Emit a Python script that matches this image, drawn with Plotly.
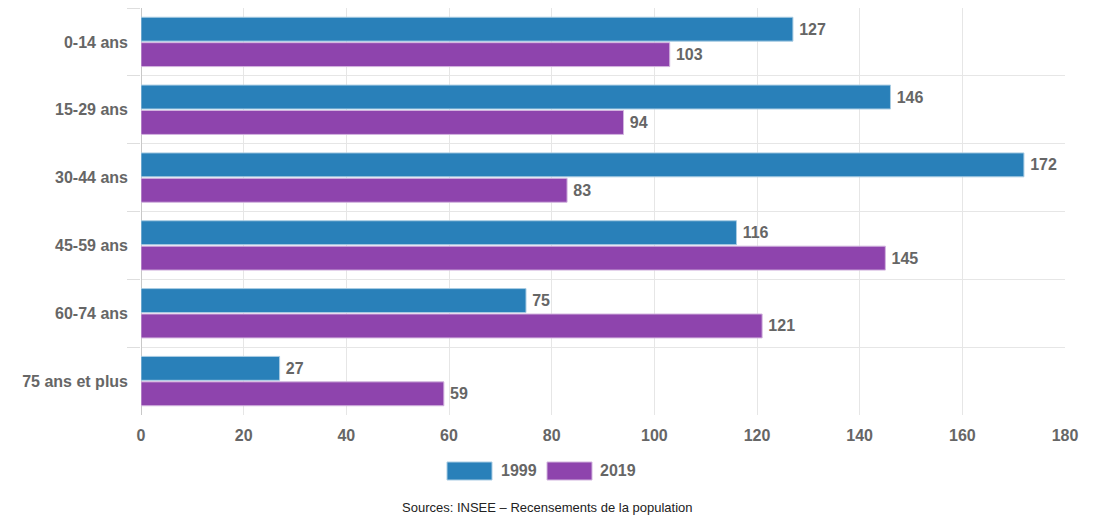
import plotly.graph_objects as go

categories = ["0-14 ans", "15-29 ans", "30-44 ans", "45-59 ans", "60-74 ans", "75 ans et plus"]
values_1999 = [127, 146, 172, 116, 75, 27]
values_2019 = [103, 94, 83, 145, 121, 59]
series_names = ["1999", "2019"]
colors = ["#2980b9", "#8e44ad"]
border_colors = ["#a9cce3", "#d2b4de"]
x_ticks = [0, 20, 40, 60, 80, 100, 120, 140, 160, 180]

W, H = 1094, 517
L, R, T, B = 141, 29, 8, 102

font_main = "Liberation Sans, Arial, sans-serif"
gray = "#666666"

fig = go.Figure()
for name, vals, col, bcol in zip(series_names, [values_1999, values_2019], colors, border_colors):
    fig.add_trace(go.Bar(
        y=categories, x=vals, orientation="h", name=name,
        marker=dict(color=col, line=dict(color=bcol, width=1)),
        text=["\u2009" + str(v) for v in vals], textposition="outside",
        textfont=dict(family=font_main, size=16, color=gray, weight="bold"),
        cliponaxis=False, showlegend=False,
    ))

fig.update_layout(
    width=W, height=H,
    margin=dict(l=L, r=R, t=T, b=B, pad=0),
    paper_bgcolor="white", plot_bgcolor="white",
    barmode="group", bargap=0.25, bargroupgap=0.06,
    font=dict(family=font_main, color=gray),
    xaxis=dict(
        range=[0, 180], tickvals=x_ticks, ticktext=[str(v) for v in x_ticks],
        showgrid=True, gridcolor="#e6e6e6", gridwidth=1,
        zeroline=True, zerolinecolor="#c8c8c8", zerolinewidth=1,
        tickfont=dict(family=font_main, size=16, color=gray, weight="bold"),
        ticks="", ticklabelstandoff=9, showline=False, fixedrange=True,
    ),
    yaxis=dict(
        autorange="reversed", tickson="boundaries",
        showgrid=True, gridcolor="#e6e6e6", gridwidth=1,
        ticks="outside", ticklen=13, tickcolor="#dedede", tickwidth=1,
        tickfont=dict(family=font_main, size=16, color=gray, weight="bold"),
        ticklabelstandoff=12, showline=False, zeroline=False,
    ),
)

# Legend drawn as boxes + labels below the plot
legend_y0, legend_y1 = (H - 480), (H - 462)
legend_items = [(447, 492, 501), (547, 592, 600)]
for (x0, x1, tx), name, col, bcol in zip(legend_items, series_names, colors, border_colors):
    fig.add_shape(type="rect", xref="paper", yref="paper",
                  x0=(x0 - L) / (W - L - R), x1=(x1 - L) / (W - L - R),
                  y0=(legend_y0 - B) / (H - T - B), y1=(legend_y1 - B) / (H - T - B),
                  fillcolor=col, line=dict(color=bcol, width=1))
    fig.add_annotation(xref="paper", yref="paper",
                       x=(tx - L) / (W - L - R), y=((H - 470) - B) / (H - T - B),
                       text=name, showarrow=False, xanchor="left", yanchor="middle",
                       xshift=-2,
                       font=dict(family=font_main, size=16, color=gray, weight="bold"))

fig.add_annotation(xref="paper", yref="paper",
                   x=(547 - L) / (W - L - R), y=((H - 507) - B) / (H - T - B),
                   text="Sources: INSEE \u2013 Recensements de la population",
                   showarrow=False, xanchor="center", yanchor="middle",
                   font=dict(family="Liberation Sans, Arial, sans-serif", size=13, color="#222222"))

fig.write_html("out.html")
